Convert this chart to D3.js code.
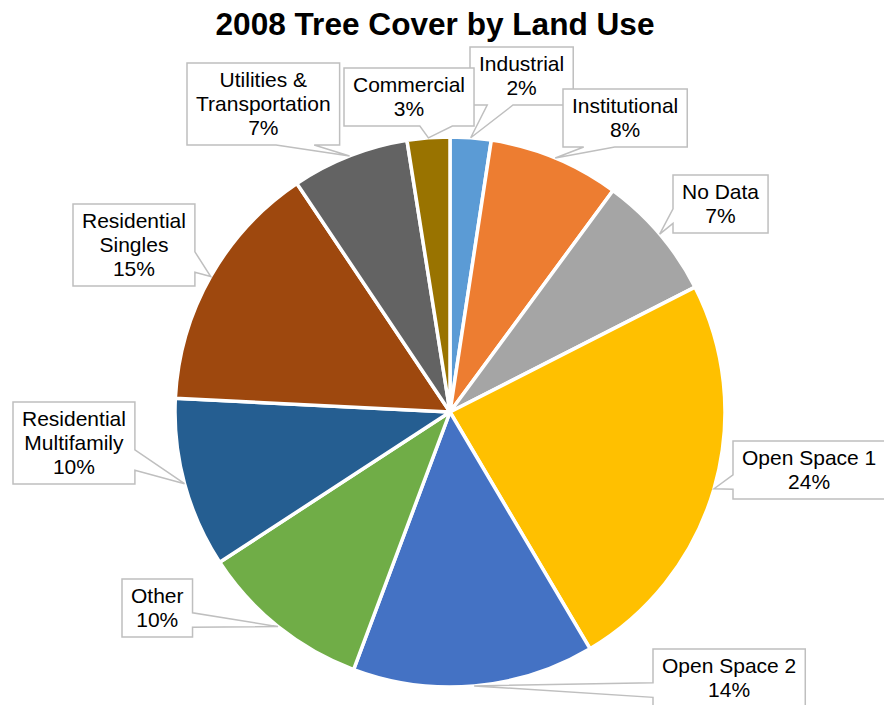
<!DOCTYPE html>
<html>
<head>
<meta charset="utf-8">
<script src="https://cdn.jsdelivr.net/npm/d3@7/dist/d3.min.js"></script>
<style>
  html, body { margin: 0; padding: 0; background: #fff; }
  svg { display: block; font-family: "Liberation Sans", Arial, sans-serif; }
</style>
</head>
<body>
<svg id="chart" width="884" height="705"></svg>
<script>
// ---- data ----
const title = "2008 Tree Cover by Land Use";
const categories = ["Industrial", "Institutional", "No Data", "Open Space 1", "Open Space 2",
  "Other", "Residential Multifamily", "Residential Singles", "Utilities & Transportation", "Commercial"];
const values = [2.4, 7.7, 7.4, 24.0, 14.2, 10.1, 10.0, 14.8, 6.9, 2.5];
const colors = ["#5B9BD5", "#ED7D31", "#A5A5A5", "#FFC000", "#4472C4",
  "#70AD47", "#255E91", "#9E480E", "#636363", "#997300"];

// ---- layout (label box top-left corners) ----
const labelBoxes = [[470, 47], [563, 89], [673, 175], [733, 441], [653, 649],
  [122, 579], [13, 402], [73, 204], [187, 63], [344, 68]];

const W = 884, H = 705;
const cx = 450, cy = 412, R = 275;
const fontSize = 21, lineH = 24, pad = 9, maxLine = 140;

const svg = d3.select("#chart");

svg.append("text")
  .attr("x", 435).attr("y", 35)
  .attr("text-anchor", "middle")
  .attr("font-size", 31.6).attr("font-weight", "bold")
  .attr("fill", "#000")
  .text(title);

const total = d3.sum(values);
const data = categories.map((c, i) => ({ name: c, value: values[i], color: colors[i], i }));
const pie = d3.pie().sort(null).value(d => d.value);
const arcs = pie(data);
const arc = d3.arc().innerRadius(0).outerRadius(R);
const edge = d3.arc().innerRadius(R).outerRadius(R);

const g = svg.append("g").attr("transform", `translate(${cx},${cy})`);
g.selectAll("path.slice").data(arcs).enter().append("path")
  .attr("class", "slice")
  .attr("d", arc)
  .attr("fill", d => d.data.color)
  .attr("stroke", "#fff")
  .attr("stroke-width", 3.5)
  .attr("stroke-linejoin", "round");

// measuring helper
const meas = svg.append("text").attr("font-size", fontSize).attr("visibility", "hidden");
function tw(s) { meas.text(s); return meas.node().getComputedTextLength(); }
function wrap(s) {
  const words = s.split(" ");
  const lines = [];
  let cur = "";
  words.forEach(w => {
    const t = cur ? cur + " " + w : w;
    if (cur && tw(t) > maxLine) { lines.push(cur); cur = w; } else cur = t;
  });
  if (cur) lines.push(cur);
  return lines;
}

function calloutPath(x, y, w, h, tx, ty) {
  const bx = x + w / 2, by = y + h / 2;
  const dx = tx - bx, dy = ty - by;
  if (tx >= x && tx <= x + w && ty >= y && ty <= y + h) {
    return `M${x},${y}H${x + w}V${y + h}H${x}Z`;
  }
  const p = [];
  if (Math.abs(dx) * h / w > Math.abs(dy)) {
    const y1 = dy < 0 ? y + h / 6 : y + 7 * h / 12;
    const y2 = dy < 0 ? y + 5 * h / 12 : y + 5 * h / 6;
    if (dx > 0) {
      p.push([x, y], [x + w, y], [x + w, y1], [tx, ty], [x + w, y2], [x + w, y + h], [x, y + h]);
    } else {
      p.push([x, y], [x + w, y], [x + w, y + h], [x, y + h], [x, y2], [tx, ty], [x, y1]);
    }
  } else {
    const x1 = dx < 0 ? x + w / 6 : x + 7 * w / 12;
    const x2 = dx < 0 ? x + 5 * w / 12 : x + 5 * w / 6;
    if (dy > 0) {
      p.push([x, y], [x + w, y], [x + w, y + h], [x2, y + h], [tx, ty], [x1, y + h], [x, y + h]);
    } else {
      p.push([x, y], [x1, y], [tx, ty], [x2, y], [x + w, y], [x + w, y + h], [x, y + h]);
    }
  }
  return "M" + p.map(q => q.join(",")).join("L") + "Z";
}

const labels = svg.append("g");
arcs.forEach((a, i) => {
  const lines = wrap(a.data.name).concat([Math.round(a.data.value / total * 100) + "%"]);
  const w = d3.max(lines, tw) + 2 * pad;
  const h = lineH * lines.length + 10;
  const [x, y] = labelBoxes[i];
  const c = edge.centroid(a);
  const tx = cx + c[0], ty = cy + c[1];
  const lg = labels.append("g");
  lg.append("path")
    .attr("d", calloutPath(x, y, w, h, tx, ty))
    .attr("fill", "#fff")
    .attr("stroke", "#BFBFBF")
    .attr("stroke-width", 1.5);
  const t = lg.append("text")
    .attr("text-anchor", "middle")
    .attr("font-size", fontSize)
    .attr("fill", "#000");
  lines.forEach((ln, k) => {
    t.append("tspan").attr("x", x + w / 2).attr("y", y + 24 + k * lineH).text(ln);
  });
});
meas.remove();
</script>
</body>
</html>
